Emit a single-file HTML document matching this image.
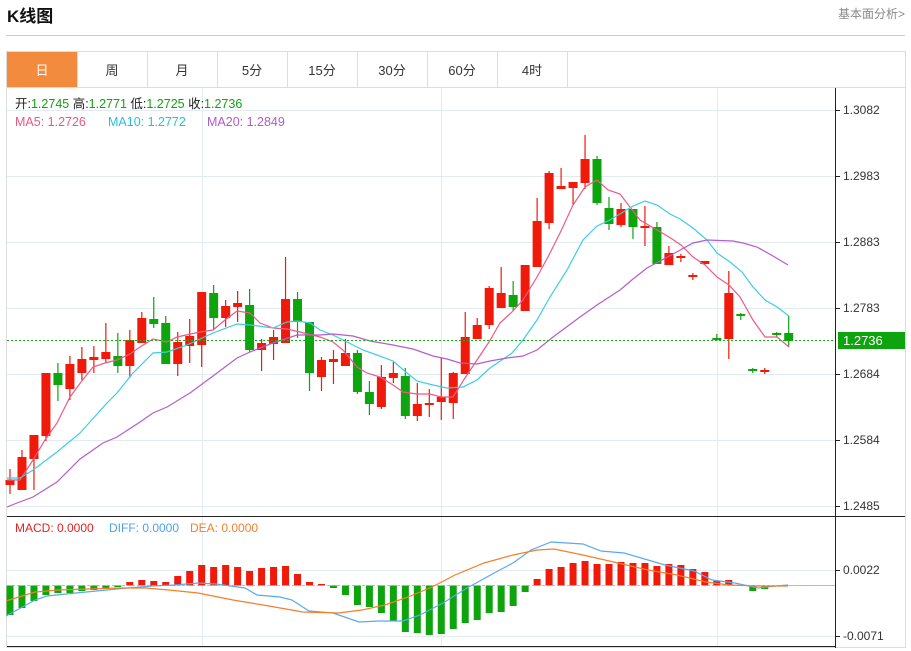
<!DOCTYPE html>
<html><head><meta charset="utf-8"><style>
body{margin:0;background:#fff;width:911px;height:651px;overflow:hidden;font-family:"Liberation Sans","Noto Sans CJK SC",sans-serif;}
svg{position:absolute;left:0;top:0}
</style></head><body>
<svg id="s" width="911" height="651" xmlns="http://www.w3.org/2000/svg" font-family="Liberation Sans, Noto Sans CJK SC, sans-serif">
<text x="7" y="22" font-size="17" font-weight="bold" fill="#111">K线图</text>
<text x="838" y="18" font-size="12" fill="#888">基本面分析&gt;</text>
<line x1="6" y1="35.5" x2="905" y2="35.5" stroke="#ccc"/>
<rect x="6.5" y="51.5" width="899" height="596" fill="none" stroke="#ddd"/>
<rect x="7" y="52" width="70" height="35" fill="#f38b3e"/>
<g stroke="#ddd"><line x1="77.5" y1="52" x2="77.5" y2="87"/><line x1="147.5" y1="52" x2="147.5" y2="87"/><line x1="217.5" y1="52" x2="217.5" y2="87"/><line x1="287.5" y1="52" x2="287.5" y2="87"/><line x1="357.5" y1="52" x2="357.5" y2="87"/><line x1="427.5" y1="52" x2="427.5" y2="87"/><line x1="497.5" y1="52" x2="497.5" y2="87"/><line x1="567.5" y1="52" x2="567.5" y2="87"/><line x1="7" y1="87.5" x2="905" y2="87.5"/></g>
<g font-size="13" text-anchor="middle" fill="#333"><text x="42" y="75" fill="#fff">日</text><text x="112" y="75">周</text><text x="182" y="75">月</text><text x="252" y="75">5分</text><text x="322" y="75">15分</text><text x="392" y="75">30分</text><text x="462" y="75">60分</text><text x="532" y="75">4时</text></g>
<g id="grid" stroke="#e3ebf2"></g>
<g id="plot"></g>
<line x1="835.5" y1="88" x2="835.5" y2="648" stroke="#222"/>
<line x1="7" y1="516.5" x2="905" y2="516.5" stroke="#222"/>
<line x1="7" y1="646.5" x2="835" y2="646.5" stroke="#222"/>
<g font-size="12" fill="#333" id="axis"></g>
<rect x="838" y="332" width="67" height="17" fill="#0ea40e"/>
<text x="843" y="345" font-size="13" fill="#fff">1.2736</text>
<g font-size="12.5"><text x="15" y="108" fill="#222">开:<tspan fill="#13a10e">1.2745</tspan>  高:<tspan fill="#13a10e">1.2771</tspan>  低:<tspan fill="#13a10e">1.2725</tspan>  收:<tspan fill="#13a10e">1.2736</tspan></text>
<text x="15" y="126" fill="#e8588a">MA5: 1.2726</text><text x="108" y="126" fill="#27c1d8">MA10: 1.2772</text><text x="207" y="126" fill="#b05bc8">MA20: 1.2849</text></g>
<g font-size="12"><text x="15" y="532" fill="#e82020">MACD: 0.0000</text><text x="109" y="532" fill="#4aa3ef">DIFF: 0.0000</text><text x="190" y="532" fill="#f57f2a">DEA: 0.0000</text></g>
</svg>
<script>
var NS="http://www.w3.org/2000/svg";
function el(p,t,a){var e=document.createElementNS(NS,t);for(var k in a)e.setAttribute(k,a[k]);p.appendChild(e);return e;}
var g=document.getElementById('grid'),P=document.getElementById('plot'),A=document.getElementById('axis');
[110,176,242,308,374,440,506,570,636].forEach(function(y){el(g,'line',{x1:7,x2:835,y1:y+.5,y2:y+.5});});
[202,441,717].forEach(function(x){el(g,'line',{x1:x+.5,x2:x+.5,y1:88,y2:646});});
[[110,'1.3082'],[176,'1.2983'],[242,'1.2883'],[308,'1.2783'],[374,'1.2684'],[440,'1.2584'],[506,'1.2485'],[570,'0.0022'],[636,'-0.0071']].forEach(function(a){
el(A,'line',{x1:835,x2:840,y1:a[0]+.5,y2:a[0]+.5,stroke:'#222'});var t=el(A,'text',{x:843,y:a[0]+4});t.textContent=a[1];});
var R='#f01a0a',G='#0ea40e';
// top,bottom,hi,lo,color
var C=[[480,485,469,494,R],[457,490,450,490,R],[435,459,435,490,R],[373,436,373,441,R],[373,385,363,401,G],[364,389,356,400,R],[359,373,347,380,R],[357,360,346,373,R],[352,359,323,363,R],[356,366,333,373,G],
[340,366,330,378,R],[318,343,312,343,R],[319,324,297,328,G],[323,364,316,364,G],[342,364,332,376,R],[336,346,319,363,R],[292,345,292,367,R],[293,318,285,330,G],[306,318,300,327,R],[303,307,291,322,R],
[305,350,289,352,G],[343,350,339,371,R],[337,344,330,360,R],[299,343,257,343,R],[299,322,292,338,G],[322,373,322,391,G],[360,377,357,391,R],[359,362,350,384,R],[353,366,339,366,R],[353,392,350,394,G],
[392,404,381,415,G],[377,407,365,409,R],[373,378,362,383,R],[376,416,368,419,G],[404,416,383,421,R],[403,405,389,417,R],[397,402,358,420,R],[373,403,372,419,R],[337,374,312,374,R],[325,339,318,339,R],
[288,325,286,329,R],[293,308,267,308,R],[295,307,281,311,G],[265,311,265,311,R],[221,267,198,267,R],[173,223,171,229,R],[186,189,168,189,R],[182,188,182,205,R],[159,183,135,189,R],[159,203,156,205,G],
[208,224,197,230,G],[209,225,203,227,R],[209,227,209,239,G],[226,228,206,246,R],[227,264,222,264,G],[253,265,246,265,R],[256,258,254,262,R],[275,277,273,280,R],[261,264,261,265,R],[338,340,334,341,G],
[293,339,271,359,R],[314,316,313,320,G],[369,371,368,373,G],[370,372,368,374,R],[333,335,332,337,G],[333,341,316,346,G]];
function X(i){return 10+11.98*i;}
C.forEach(function(c,i){var x=X(i);el(P,'line',{x1:x,x2:x,y1:c[2],y2:c[3],stroke:c[4],'stroke-width':1.2});
el(P,'rect',{x:x-4.5,y:c[0],width:9,height:Math.max(2,c[1]-c[0]),fill:c[4]});});
function pl(pts,col){el(P,'polyline',{points:pts,fill:'none',stroke:col,'stroke-width':1.2});}
pl("7,480 20,480 33,460 45,440 57,423 70,397 81,382 93,367 105,363 117,360 130,354 140,347 153,339 167,342 177,337 200,332 213,330 225,320 237,311 250,313 260,323 273,328 287,329 300,332 320,337 333,342 343,350 357,367 367,373 380,377 393,385 403,392 417,394 430,394 441,397 453,397 465,378 477,360 489,342 500,323 512,312 523,300 537,277 549,255 560,233 573,205 585,187 597,180 608,190 620,194 640,220 657,230 669,237 681,245 693,257 705,265 717,277 729,285 740,297 753,320 765,337 777,337 789,347","#ec5a86");
pl("7,478 20,478 33,470 57,452 80,433 107,403 117,393 133,373 153,353 167,352 187,345 213,333 237,324 250,325 273,328 287,322 297,321 310,323 320,330 333,335 347,342 363,350 377,355 393,361 407,373 417,381 433,385 447,388 463,387 477,380 490,368 512,353 523,340 537,320 550,297 567,270 583,240 597,226 610,220 633,206 645,201 657,205 670,214 680,219 693,228 707,240 717,253 730,262 742,272 753,287 765,300 777,307 789,316","#3ccde3");
pl("7,507 17,503 33,497 57,482 80,459 103,443 117,437 140,422 153,413 167,407 190,393 213,376 237,358 250,352 273,343 297,335 320,335 333,334 353,336 370,341 393,345 413,349 433,356 447,359 460,363 477,364 490,361 507,358 523,356 537,350 553,337 580,317 597,305 620,290 633,279 647,268 673,254 693,243 707,240 733,241 743,243 757,247 773,256 788,265","#b45ec9");
el(P,'line',{x1:7,x2:835,y1:340.5,y2:340.5,stroke:'#13b013','stroke-dasharray':'2,2'});
// MACD
var H=[615,608,601,595,593,593,591,590,589,587,582,580,581,582,576,571,565,567,565,567,571,568,567,566,574,582,584,588,595,605,607,613,621,632,633,635,634,629,623,620,613,612,606,592,579,569,567,563,561,564,564,562,563,563,566,564,565,569,572,581,580,585,591,589];
var Z=585.5;
H.forEach(function(y,i){var x=X(i);var up=y<Z;el(P,'rect',{x:x-3.5,y:Math.min(y,Z),width:7,height:Math.max(1,Math.abs(y-Z)),fill:up?R:G});});
el(P,'line',{x1:7,x2:835,y1:Z,y2:Z,stroke:'#aaa','stroke-dasharray':'3,2','stroke-width':.8});
el(P,'line',{x1:790,x2:835,y1:Z,y2:Z,stroke:'#8cc4ee','stroke-dasharray':'3,2','stroke-width':1});
pl("6,616 35,600 47,596 76,593 117,589 152,586 175,585 198,583 216,584 245,588 257,595 280,597 292,600 309,611 333,613 359,622 379,621 403,621 420,615 443,603 467,588 496,572 513,563 531,550 551,542 583,544 601,551 624,553 648,560 665,565 694,571 712,580 735,583 758,588 776,586 788,585","#5aa9ef");
pl("6,601 35,592 58,590 117,588 146,588 169,590 198,593 233,600 263,605 303,612 338,613 362,610 385,605 408,597 432,587 455,575 484,563 513,555 537,550 554,549 583,555 618,563 648,570 677,575 706,582 729,585 758,586 788,586","#f57f2a");
</script>
</body></html>
